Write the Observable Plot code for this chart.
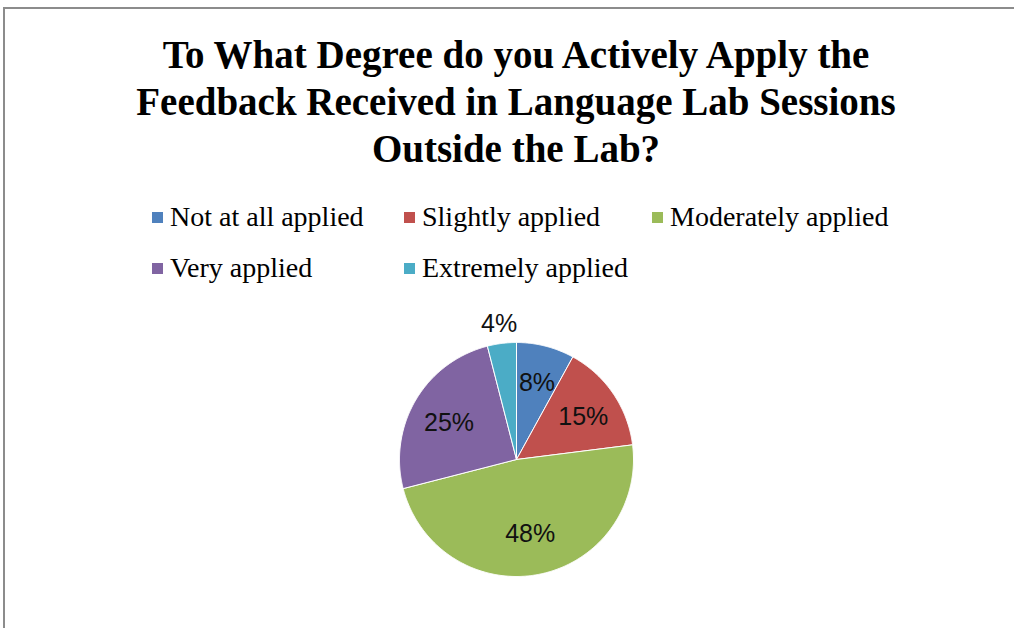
<!DOCTYPE html>
<html>
<head>
<meta charset="utf-8">
<script src="https://cdn.jsdelivr.net/npm/d3@7"></script>
<script src="https://cdn.jsdelivr.net/npm/@observablehq/plot@0.6"></script>
<style>
  html, body { margin: 0; padding: 0; background: #fff; width: 1014px; height: 628px; overflow: hidden; }
  #frame { position: absolute; left: 3px; top: 7px; width: 1020px; height: 630px; border-left: 2px solid #8c8c8c; border-top: 2px solid #8c8c8c; }
  #title { position: absolute; left: 0; width: 1032px; top: 31px; text-align: center; font-family: "Liberation Serif", serif; font-weight: bold; font-size: 39px; line-height: 47px; color: #000; }
  #title span { display: inline-block; white-space: nowrap; }
  #legend { position: absolute; left: 152px; top: 202px; font-family: "Liberation Serif", serif; font-size: 28px; line-height: 30px; color: #000; }
  .item { position: absolute; white-space: nowrap; display: flex; align-items: center; height: 30px; }
  .sw { width: 11px; height: 11px; margin-right: 7px; }
  #chart { position: absolute; left: 356px; top: 299px; }
</style>
</head>
<body>
<div id="frame"></div>
<div id="title"><span>To What Degree do you Actively Apply the</span><br><span>Feedback Received in Language Lab Sessions</span><br><span>Outside the Lab?</span></div>
<div id="legend"></div>
<div id="chart"></div>
<script>
const categories = ["Not at all applied", "Slightly applied", "Moderately applied", "Very applied", "Extremely applied"];
const values = [8, 15, 48, 25, 4];
const colors = ["#4F81BD", "#C0504D", "#9BBB59", "#8064A2", "#4BACC6"];

// legend
const legend = document.getElementById("legend");
const legendPos = [[0, 0], [252, 0], [500, 0], [0, 51], [252, 51]];
categories.forEach((c, i) => {
  const d = document.createElement("div");
  d.className = "item";
  d.style.left = legendPos[i][0] + "px";
  d.style.top = legendPos[i][1] + "px";
  d.innerHTML = `<div class="sw" style="background:${colors[i]}"></div><span>${c}</span>`;
  legend.appendChild(d);
});

// pie geometry derived from data
const R = 117;
const total = d3.sum(values);
const polys = [];
const labels = [];
let cum = 0;
values.forEach((v, i) => {
  const a0 = cum / total * 2 * Math.PI;
  const a1 = (cum + v) / total * 2 * Math.PI;
  cum += v;
  polys.push({cat: categories[i], x: 0, y: 0, o: 0});
  const n = Math.max(2, Math.ceil((a1 - a0) / (Math.PI / 360)));
  for (let k = 0; k <= n; k++) {
    const a = a0 + (a1 - a0) * k / n;
    polys.push({cat: categories[i], x: R * Math.sin(a), y: R * Math.cos(a), o: k + 1});
  }
  polys.push({cat: categories[i], x: 0, y: 0, o: n + 2});
  const am = (a0 + a1) / 2;
  const share = v / total;
  const lr = share < 0.06 ? R * 1.19 : R * (0.72 - share / 5);
  labels.push({cat: categories[i], text: Math.round(share * 100) + "%", x: lr * Math.sin(am), y: lr * Math.cos(am)});
});

const S = 160;
const plot = Plot.plot({
  width: 2 * S, height: 2 * S,
  margin: 0,
  x: {domain: [-S, S], axis: null},
  y: {domain: [-S, S], axis: null},
  color: {domain: categories, range: colors},
  style: {background: "transparent", overflow: "visible"},
  marks: [
    Plot.line(polys, {x: "x", y: "y", z: "cat", fill: "cat", stroke: "white", strokeWidth: 1, curve: "linear-closed"}),
    Plot.text(labels, {x: "x", y: "y", text: "text", fill: "#111", fontSize: 25, dy: 3, fontFamily: "Liberation Sans, sans-serif"})
  ]
});
document.getElementById("chart").appendChild(plot);
</script>
</body>
</html>
